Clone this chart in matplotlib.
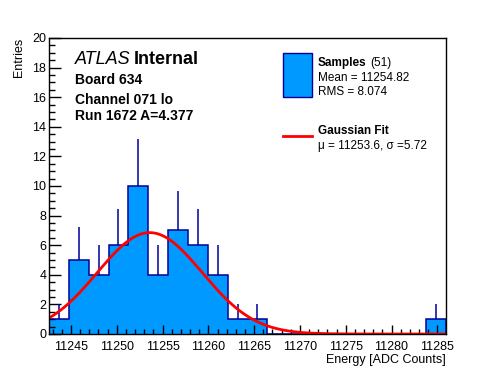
import numpy as np
import matplotlib.pyplot as plt
from matplotlib.ticker import MultipleLocator

# histogram data (20 bins)
x_min, x_max = 11242.6, 11285.95
counts = [1, 5, 4, 6, 10, 4, 7, 6, 4, 1, 1, 0, 0, 0, 0, 0, 0, 0, 0, 1]
n_entries = 51
mean, rms = 11254.82, 8.074

# gaussian fit
fit_amp = 6.85
fit_mu = 11253.6
fit_sigma = 5.72

plt.rcParams['font.family'] = ['Liberation Sans', 'DejaVu Sans']

fig = plt.figure(figsize=(4.96, 3.72), dpi=100)
ax = fig.add_axes([49 / 496, 1 - 334 / 372, 397 / 496, 296 / 372])

edges = np.linspace(x_min, x_max, len(counts) + 1)
counts = np.array(counts, dtype=float)
centers = 0.5 * (edges[:-1] + edges[1:])

ax.stairs(counts, edges, fill=True, color='#0099ff', zorder=1)
ax.stairs(counts, edges, color='#000099', lw=1.1, zorder=2)

# upward error bars
nz = counts > 0
ax.vlines(centers[nz], counts[nz], counts[nz] + np.sqrt(counts[nz]),
          color='#000099', lw=1.1, zorder=2)

xs = np.linspace(x_min, x_max, 400)
ys = fit_amp * np.exp(-0.5 * ((xs - fit_mu) / fit_sigma) ** 2)
ax.plot(xs, ys, color='#ff0000', lw=2, zorder=3)

ax.set_xlim(x_min, x_max)
ax.set_ylim(0, 20)
ax.xaxis.set_major_locator(MultipleLocator(5))
ax.xaxis.set_minor_locator(MultipleLocator(1))
ax.yaxis.set_major_locator(MultipleLocator(2))
ax.yaxis.set_minor_locator(MultipleLocator(0.5))
ax.xaxis.set_major_formatter(plt.FuncFormatter(lambda v, p: '%d' % v))
ax.tick_params(axis='x', which='major', direction='in', length=6.5, width=1, labelsize=9, pad=5)
ax.tick_params(axis='x', which='minor', direction='in', length=3.5, width=1)
ax.tick_params(axis='y', which='major', direction='in', length=8.5, width=1, labelsize=9, pad=2)
ax.tick_params(axis='y', which='minor', direction='in', length=4.5, width=1)
for s in ax.spines.values():
    s.set_linewidth(1)
    s.set_zorder(5)

ax.set_xlabel('Energy [ADC Counts]', fontsize=9, loc='right', labelpad=1)
ax.set_ylabel('Entries', fontsize=9, loc='top', labelpad=5)

# labels
fig.text(75 / 496, 1 - 64 / 372, 'ATLAS', style='italic', fontsize=13)
fig.text(134 / 496, 1 - 64 / 372, 'Internal', weight='bold', fontsize=13)
fig.text(75 / 496, 1 - 83.5 / 372, 'Board 634', weight='bold', fontsize=10)
fig.text(75 / 496, 1 - 103.5 / 372, 'Channel 071 lo', weight='bold', fontsize=10)
fig.text(75 / 496, 1 - 119.5 / 372, 'Run 1672 A=4.377', weight='bold', fontsize=10)

# legend
fig.patches.append(plt.Rectangle((283 / 496, 1 - 97 / 372), 29 / 496, 44 / 372,
                                 transform=fig.transFigure, facecolor='#0099ff',
                                 edgecolor='#000099', lw=1))
fig.text(318 / 496, 1 - 66 / 372, 'Samples', weight='bold', fontsize=8.5)
fig.text(370 / 496, 1 - 66 / 372, '(%d)' % n_entries, fontsize=8.5)
fig.text(318 / 496, 1 - 81 / 372, 'Mean = %.2f' % mean, fontsize=8.5)
fig.text(318 / 496, 1 - 95 / 372, 'RMS = %.3f' % rms, fontsize=8.5)
fig.lines.append(plt.Line2D([283 / 496, 312 / 496], [1 - 136 / 372, 1 - 136 / 372],
                            transform=fig.transFigure, color='#ff0000', lw=2))
fig.text(318 / 496, 1 - 134 / 372, 'Gaussian Fit', weight='bold', fontsize=8.5)
fig.text(318 / 496, 1 - 149 / 372, '\u03bc = %.1f, \u03c3 =%.2f' % (fit_mu, fit_sigma), fontsize=8.5)

fig.savefig('out.png', dpi=100)
